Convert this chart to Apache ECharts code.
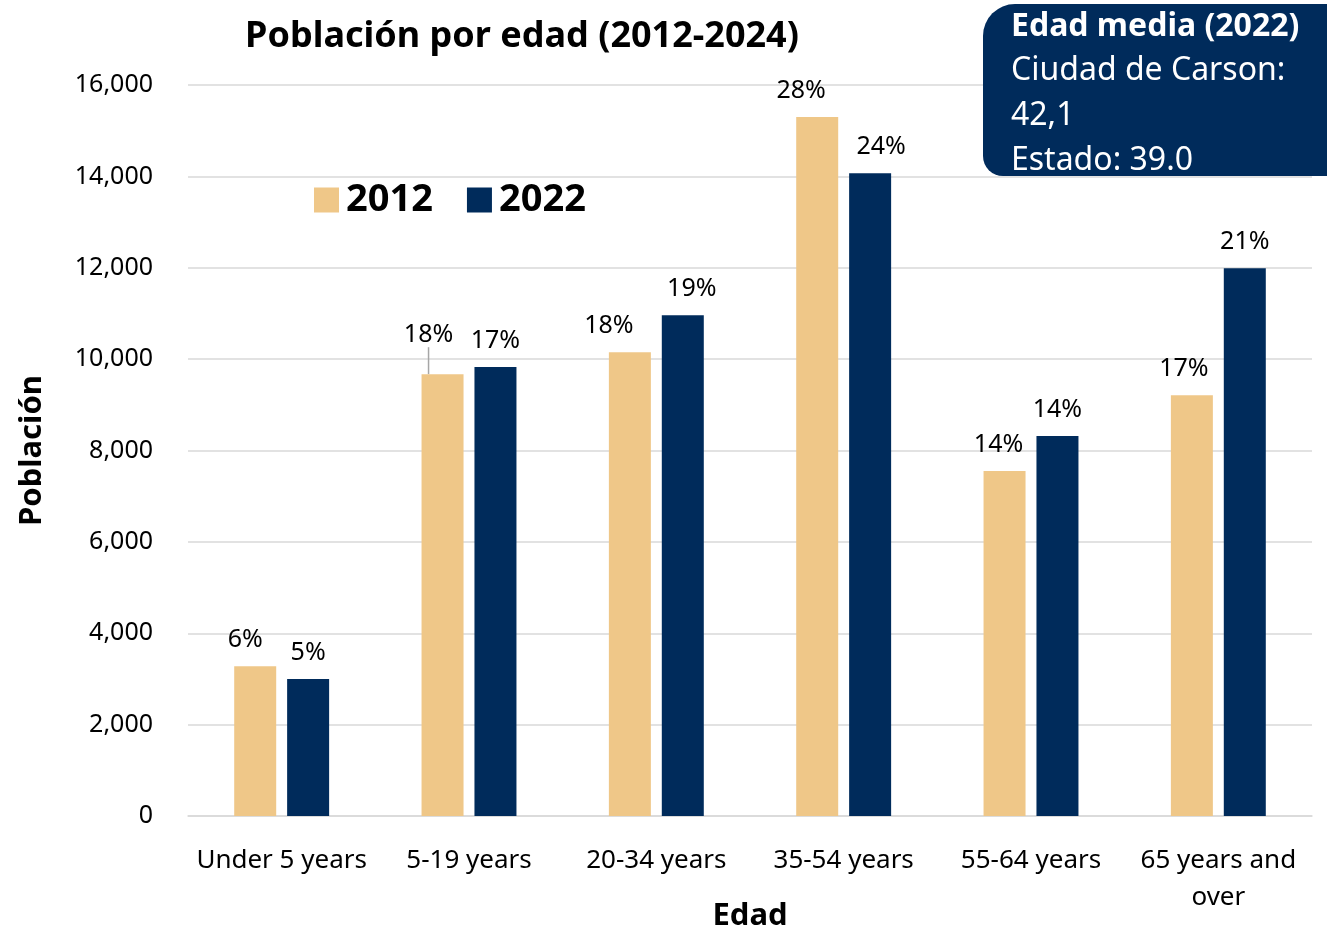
<!DOCTYPE html>
<html><head><meta charset="utf-8">
<script src="https://cdn.jsdelivr.net/npm/echarts@6/dist/echarts.min.js"></script>
<style>html,body{margin:0;padding:0;background:#fff}#c{width:1327px;height:938px}</style>
</head><body><div id="c"></div>
<script>
const categories = ['Under 5 years','5-19 years','20-34 years','35-54 years','55-64 years','65 years and\nover'];
const seriesNames = ['2012','2022'];
const values2012 = [3280, 9670, 10150, 15300, 7550, 9210];
const values2022 = [3000, 9830, 10960, 14070, 8320, 11990];
const pct2012 = ['6%','18%','18%','28%','14%','17%'];
const pct2022 = ['5%','17%','19%','24%','14%','21%'];
const yTicks = [0,2000,4000,6000,8000,10000,12000,14000,16000];
const titleText = 'Población por edad (2012-2024)';
const boxLines = ['Edad media (2022)','Ciudad de Carson:','42,1','Estado: 39.0'];

const FONT = 'Noto Sans';
const colors = ['#EFC788','#002B5B'];
// label shifts (style only)
const off2012 = [[-10,0],[-14,-13],[-21,0],[-16,0],[-6,0],[-8,0]];
const off2022 = [[0,0],[0,0],[9,0],[11,0],[0,0],[0,0]];

function mk(vals, pcts, leaderIdx){
  return vals.map((v,i)=>{
    const d = {value:v, label:{formatter:pcts[i]}};
    if (i===leaderIdx){ d.labelLine = {show:true, lineStyle:{color:'#A6A6A6', width:1.5}}; }
    return d;
  });
}

const chart = echarts.init(document.getElementById('c'), null, {renderer:'canvas'});
chart.setOption({
  animation:false,
  textStyle:{fontFamily:FONT},
  title:{text:titleText, left:517, top:14, textAlign:'center',
    textStyle:{fontFamily:FONT, fontWeight:'bold', fontSize:36, color:'#000'}},
  legend:{data:seriesNames, left:309, top:176, itemWidth:25, itemHeight:25, itemGap:34,
    icon:'rect', textStyle:{fontFamily:FONT, fontWeight:'bold', fontSize:38, color:'#000', padding:[0,0,0,2]}},
  grid:{left:188, right:15, top:85, bottom:122, containLabel:false, outerBoundsMode:'none'},
  xAxis:{type:'category', data:categories,
    axisLine:{lineStyle:{color:'#D9D9D9', width:1.5}}, axisTick:{show:false},
    axisLabel:{fontFamily:FONT, fontSize:26, color:'#000', margin:26, lineHeight:37, interval:0},
    name:'Edad', nameLocation:'middle', nameGap:85, nameMoveOverlap:false,
    nameTextStyle:{fontFamily:FONT, fontWeight:'bold', fontSize:31, color:'#000'}},
  yAxis:{type:'value', min:0, max:16000, interval:2000,
    axisLine:{show:false}, axisTick:{show:false},
    splitLine:{lineStyle:{color:'#D9D9D9', width:1.5}},
    axisLabel:{fontFamily:FONT, fontSize:25, color:'#000', margin:35,
      formatter:v=> yTicks.includes(v) ? v.toLocaleString('en-US') : ''},
    name:'Población', nameLocation:'middle', nameGap:140, nameRotate:90, nameMoveOverlap:false,
    nameTextStyle:{fontFamily:FONT, fontWeight:'bold', fontSize:31, color:'#000'}},
  series:[
    {name:seriesNames[0], type:'bar', data:mk(values2012,pct2012,1), barWidth:42, barGap:'26%',
      itemStyle:{color:colors[0]},
      labelLayout:p=>({dx:off2012[p.dataIndex][0], dy:off2012[p.dataIndex][1]}),
      label:{show:true, position:'top', distance:14, fontFamily:FONT, fontSize:25, color:'#000'}},
    {name:seriesNames[1], type:'bar', data:mk(values2022,pct2022,-1), barWidth:42, barGap:'26%',
      itemStyle:{color:colors[1]},
      labelLayout:p=>({dx:off2022[p.dataIndex][0], dy:off2022[p.dataIndex][1]}),
      label:{show:true, position:'top', distance:14, fontFamily:FONT, fontSize:25, color:'#000'}}
  ],
  graphic:[
    {type:'rect', shape:{x:983, y:4, width:360, height:172, r:[32,0,0,20]},
      style:{fill:'#002B5B'}, z:10},
    {type:'text', x:1011, y:11, z:11, style:{text:boxLines[0], fill:'#fff',
      font:'bold 32px "'+FONT+'"'}},
    {type:'text', x:1011, y:48, z:11, style:{text:boxLines.slice(1).join('\n'), fill:'#fff',
      font:'32px "'+FONT+'"', lineHeight:45}}
  ]
});
</script></body></html>
